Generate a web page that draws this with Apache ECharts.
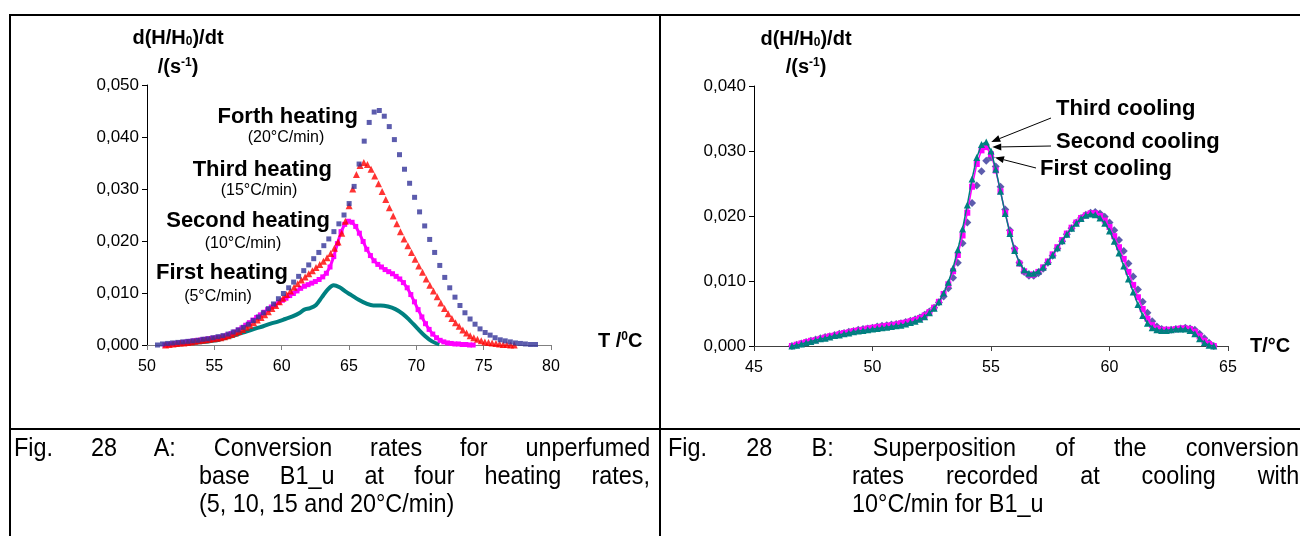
<!DOCTYPE html>
<html><head><meta charset="utf-8">
<script src="https://cdn.jsdelivr.net/npm/echarts@6/dist/echarts.min.js"></script>
<style>
html,body{margin:0;padding:0;background:#fff;}
#wrap{position:relative;width:1300px;height:536px;overflow:hidden;background:#fff;}
#chart{position:absolute;left:0;top:0;width:1300px;height:536px;}
.cap{position:absolute;font-family:'Liberation Sans',Arial,sans-serif;font-size:26px;line-height:28px;color:#000;transform:scaleX(0.9);transform-origin:0 0;white-space:normal;}
.just{text-align:justify;text-align-last:justify;}
</style></head>
<body><div id="wrap"><div id="chart"></div>
<div class="cap just" style="left:14px;top:433px;width:707px">Fig. 28 A: Conversion rates for unperfumed</div>
<div class="cap just" style="left:199px;top:461px;width:501px">base B1_u at four heating rates,</div>
<div class="cap" style="left:199px;top:489px;width:500px">(5, 10, 15 and 20°C/min)</div>
<div class="cap just" style="left:668px;top:433px;width:701px">Fig. 28 B: Superposition of the conversion</div>
<div class="cap just" style="left:852px;top:461px;width:497px">rates recorded at cooling with</div>
<div class="cap" style="left:852px;top:489px;width:497px">10°C/min for B1_u</div>
</div>
<script>
// ---------- Fig. 28 A data (heating) ----------
const forthT = [50.78,51.15,51.53,51.90,52.28,52.66,53.03,53.40,53.78,54.15,
54.52,54.90,55.27,55.64,56.02,56.40,56.77,57.15,57.52,57.89,
58.27,58.64,59.01,59.39,59.76,60.13,60.52,60.89,61.26,61.64,
62.01,62.38,62.76,63.13,63.50,63.88,64.25,64.63,65.01,65.38,
65.75,66.13,66.50,66.87,67.25,67.62,67.99,68.37,68.75,69.12,
69.50,69.87,70.24,70.62,70.99,71.36,71.74,72.11,72.48,72.87,
73.24,73.61,73.99,74.36,74.73,75.11,75.48,75.85,76.23,76.60,
76.98,77.36,77.73,78.10,78.48,78.85];
const forthV = [0.0000,0.0002,0.0003,0.0004,0.0005,0.0006,0.0007,0.0008,0.0009,0.0011,
0.0012,0.0014,0.0016,0.0018,0.0021,0.0025,0.0029,0.0034,0.0040,0.0047,
0.0054,0.0062,0.0070,0.0079,0.0089,0.0099,0.0110,0.0121,0.0132,0.0143,
0.0154,0.0166,0.0178,0.0191,0.0204,0.0218,0.0233,0.0250,0.0272,0.0305,
0.0348,0.0392,0.0428,0.0448,0.0451,0.0440,0.0420,0.0395,0.0366,0.0338,
0.0311,0.0284,0.0256,0.0229,0.0203,0.0178,0.0153,0.0130,0.0110,0.0092,
0.0076,0.0062,0.0050,0.0040,0.0031,0.0024,0.0019,0.0014,0.0010,0.0008,
0.0006,0.0004,0.0003,0.0002,0.0001,0.0001];

const thirdT = [51.38,51.65,51.93,52.20,52.47,52.74,53.02,53.29,53.56,53.83,
54.11,54.38,54.65,54.92,55.20,55.47,55.74,56.01,56.29,56.56,
56.83,57.10,57.38,57.65,57.92,58.19,58.47,58.74,59.01,59.28,
59.56,59.83,60.10,60.37,60.65,60.92,61.19,61.46,61.74,62.01,
62.28,62.55,62.83,63.10,63.37,63.64,63.92,64.19,64.46,64.73,
65.01,65.28,65.55,65.82,66.10,66.37,66.64,66.91,67.19,67.46,
67.73,68.00,68.28,68.55,68.82,69.09,69.37,69.64,69.91,70.18,
70.46,70.73,71.00,71.27,71.55,71.82,72.09,72.36,72.64,72.91,
73.18,73.45,73.73,74.00,74.27,74.54,74.82,75.09,75.36,75.63,
75.91,76.18,76.45,76.72,77.00,77.27];
const thirdV = [0.0000,0.0001,0.0002,0.0003,0.0004,0.0004,0.0005,0.0006,0.0007,0.0008,
0.0009,0.0010,0.0011,0.0012,0.0013,0.0014,0.0016,0.0018,0.0020,0.0023,
0.0026,0.0030,0.0034,0.0038,0.0043,0.0048,0.0053,0.0058,0.0064,0.0070,
0.0076,0.0083,0.0090,0.0097,0.0104,0.0111,0.0118,0.0125,0.0131,0.0137,
0.0143,0.0149,0.0155,0.0161,0.0168,0.0176,0.0186,0.0198,0.0215,0.0238,
0.0268,0.0300,0.0328,0.0345,0.0351,0.0347,0.0338,0.0325,0.0310,0.0295,
0.0280,0.0264,0.0248,0.0233,0.0218,0.0204,0.0191,0.0178,0.0165,0.0152,
0.0140,0.0127,0.0115,0.0104,0.0093,0.0081,0.0070,0.0060,0.0051,0.0043,
0.0036,0.0029,0.0023,0.0018,0.0014,0.0011,0.0008,0.0006,0.0005,0.0004,
0.0003,0.0002,0.0001,0.0001,0.0000,0.0000];

const secondT = [51.33,51.60,51.87,52.15,52.42,52.69,52.96,53.24,53.51,53.78,
54.06,54.33,54.60,54.87,55.15,55.42,55.69,55.96,56.24,56.51,
56.78,57.05,57.33,57.60,57.87,58.14,58.42,58.69,58.96,59.23,
59.51,59.78,60.05,60.32,60.60,60.87,61.14,61.41,61.69,61.96,
62.23,62.50,62.78,63.05,63.32,63.59,63.87,64.14,64.41,64.68,
64.96,65.23,65.50,65.77,66.05,66.32,66.59,66.86,67.14,67.41,
67.68,67.95,68.23,68.50,68.77,69.04,69.32,69.59,69.86,70.13,
70.41,70.68,70.95,71.22,71.50,71.77,72.04,72.31,72.59,72.86,
73.13,73.40,73.68,73.95,74.22];
const secondV = [0.0000,0.0001,0.0002,0.0003,0.0004,0.0005,0.0006,0.0007,0.0008,0.0009,
0.0010,0.0011,0.0012,0.0013,0.0014,0.0015,0.0017,0.0019,0.0022,0.0025,
0.0029,0.0033,0.0038,0.0043,0.0048,0.0053,0.0058,0.0063,0.0068,0.0073,
0.0077,0.0082,0.0086,0.0090,0.0095,0.0099,0.0104,0.0109,0.0113,0.0116,
0.0119,0.0122,0.0126,0.0131,0.0138,0.0150,0.0170,0.0195,0.0218,0.0232,
0.0238,0.0236,0.0228,0.0215,0.0199,0.0184,0.0172,0.0162,0.0155,0.0150,
0.0145,0.0141,0.0137,0.0132,0.0127,0.0120,0.0110,0.0097,0.0083,0.0068,
0.0054,0.0041,0.0030,0.0021,0.0014,0.0009,0.0006,0.0004,0.0003,0.0002,
0.0002,0.0001,0.0001,0.0000,0.0000];

const firstT = [52.09,52.64,53.18,53.73,54.27,54.82,55.36,55.91,56.45,57.00,57.54,58.09,58.63,59.18,59.72,60.27,60.81,61.36,61.68,62.12,
62.55,62.99,63.43,63.86,64.30,64.73,65.17,65.72,66.26,66.81,67.35,67.90,68.44,68.99,69.53,70.08,70.62,71.17,71.71];
const firstV = [0.0000,0.0002,0.0003,0.0005,0.0006,0.0008,0.0010,0.0014,0.0018,0.0023,0.0027,0.0032,0.0036,0.0041,0.0045,0.0050,0.0055,0.0062,0.0068,0.0071,
0.0077,0.0092,0.0107,0.0115,0.0111,0.0103,0.0096,0.0087,0.0080,0.0076,0.0076,0.0074,0.0069,0.0060,0.0047,0.0032,0.0018,0.0007,0.0001];

// ---------- Fig. 28 B data (cooling, 10°C/min) ----------
const coolT = [46.6,46.8,47.0,47.2,47.4,47.6,47.8,48.0,48.2,48.4,
48.6,48.8,49.0,49.2,49.4,49.6,49.8,50.0,50.2,50.4,
50.6,50.8,51.0,51.2,51.4,51.6,51.8,52.0,52.2,52.4,
52.6,52.8,53.0,53.2,53.4,53.6,53.8,54.0,54.2,54.4,
54.6,54.8,55.0,55.2,55.4,55.6,55.8,56.0,56.2,56.4,
56.6,56.8,57.0,57.2,57.4,57.6,57.8,58.0,58.2,58.4,
58.6,58.8,59.0,59.2,59.4,59.6,59.8,60.0,60.2,60.4,
60.6,60.8,61.0,61.2,61.4,61.6,61.8,62.0,62.2,62.4,
62.6,62.8,63.0,63.2,63.4,63.6,63.8,64.0,64.2,64.4];
const firstCoolV = [0.0000,0.0002,0.0004,0.0006,0.0008,0.0010,0.0012,0.0014,0.0015,0.0017,
0.0019,0.0020,0.0022,0.0023,0.0025,0.0026,0.0027,0.0028,0.0030,0.0031,
0.0032,0.0033,0.0034,0.0035,0.0037,0.0039,0.0041,0.0044,0.0048,0.0053,
0.0059,0.0067,0.0076,0.0089,0.0105,0.0128,0.0158,0.0190,0.0220,0.0247,
0.0269,0.0285,0.0290,0.0276,0.0245,0.0210,0.0178,0.0150,0.0128,0.0114,
0.0108,0.0108,0.0112,0.0119,0.0128,0.0139,0.0150,0.0161,0.0172,0.0181,
0.0190,0.0197,0.0202,0.0205,0.0206,0.0204,0.0199,0.0190,0.0178,0.0163,
0.0146,0.0127,0.0107,0.0087,0.0068,0.0051,0.0038,0.0030,0.0026,0.0025,
0.0025,0.0026,0.0027,0.0028,0.0027,0.0025,0.0019,0.0012,0.0005,0.0000];
const secondCoolV = [0.0000,0.0002,0.0004,0.0006,0.0008,0.0009,0.0011,0.0013,0.0015,0.0016,
0.0018,0.0020,0.0021,0.0023,0.0024,0.0025,0.0027,0.0028,0.0029,0.0030,
0.0031,0.0032,0.0033,0.0035,0.0036,0.0038,0.0040,0.0043,0.0047,0.0052,
0.0059,0.0068,0.0080,0.0095,0.0115,0.0140,0.0170,0.0205,0.0245,0.0280,
0.0301,0.0306,0.0295,0.0270,0.0238,0.0205,0.0175,0.0148,0.0127,0.0115,
0.0110,0.0110,0.0114,0.0121,0.0130,0.0141,0.0152,0.0163,0.0173,0.0182,
0.0190,0.0197,0.0201,0.0204,0.0204,0.0200,0.0193,0.0183,0.0169,0.0152,
0.0134,0.0114,0.0094,0.0075,0.0057,0.0042,0.0032,0.0027,0.0025,0.0025,
0.0025,0.0026,0.0027,0.0027,0.0026,0.0022,0.0015,0.0008,0.0003,0.0000];
const thirdCoolV = [0.0000,0.0001,0.0003,0.0005,0.0007,0.0009,0.0011,0.0012,0.0014,0.0016,
0.0017,0.0019,0.0020,0.0022,0.0023,0.0024,0.0025,0.0026,0.0027,0.0028,
0.0029,0.0030,0.0031,0.0032,0.0034,0.0036,0.0038,0.0041,0.0045,0.0051,
0.0058,0.0068,0.0081,0.0098,0.0120,0.0148,0.0180,0.0217,0.0257,0.0290,
0.0310,0.0314,0.0300,0.0272,0.0238,0.0204,0.0173,0.0147,0.0128,0.0117,
0.0112,0.0112,0.0115,0.0121,0.0130,0.0140,0.0151,0.0162,0.0172,0.0181,
0.0189,0.0196,0.0201,0.0203,0.0202,0.0197,0.0189,0.0177,0.0161,0.0143,
0.0123,0.0103,0.0083,0.0064,0.0047,0.0035,0.0028,0.0025,0.0024,0.0024,
0.0025,0.0026,0.0026,0.0026,0.0024,0.0019,0.0011,0.0005,0.0001,0.0000];

// ---------- axis ticks ----------
const leftXTicks = {min: 50, max: 80, step: 5};
const leftYTicks = {min: 0, max: 0.05, step: 0.01};
const rightXTicks = {min: 45, max: 65, step: 5};
const rightYTicks = {min: 0, max: 0.04, step: 0.01};

const heatLabels = [
  ['Forth heating', '(20°C/min)'],
  ['Third heating', '(15°C/min)'],
  ['Second heating', '(10°C/min)'],
  ['First heating', '(5°C/min)']
];
const coolLabels = ['Third cooling', 'Second cooling', 'First cooling'];

// ---------- build ----------
const pairs = (xs, ys) => xs.map((x, i) => [x, ys[i]]);
const FONT = "'Liberation Sans', Arial, sans-serif";
const NARROW = "'Liberation Sans Narrow', 'Arial Narrow', 'Liberation Sans', sans-serif";
const fmtY = v => v.toFixed(3).replace('.', ',');

function xAx(gi, t, lineColor) {
  return {type: 'value', gridIndex: gi, min: t.min, max: t.max, interval: t.step,
    axisLine: {show: true, onZero: false, lineStyle: {color: lineColor, width: 1}},
    axisTick: {show: true, length: 5, lineStyle: {color: lineColor}},
    axisLabel: {margin: 14, color: '#000', fontFamily: NARROW, fontSize: 16},
    splitLine: {show: false}};
}
function yAx(gi, t) {
  return {type: 'value', gridIndex: gi, min: t.min, max: t.max, interval: t.step,
    axisLine: {show: true, lineStyle: {color: '#000', width: 1}},
    axisTick: {show: true, length: 5, lineStyle: {color: '#000'}},
    axisLabel: {margin: 8, color: '#000', fontFamily: FONT, fontSize: 17, formatter: fmtY},
    splitLine: {show: false}};
}

const chart = echarts.init(document.getElementById('chart'), null, {renderer: 'canvas'});

const series = [
  {name: 'First heating', type: 'line', xAxisIndex: 0, yAxisIndex: 0, data: pairs(firstT, firstV),
   showSymbol: false, smooth: 0.35, lineStyle: {color: '#008080', width: 4}, z: 2},
  {name: 'Second heating', type: 'line', xAxisIndex: 0, yAxisIndex: 0, data: pairs(secondT, secondV),
   symbol: 'rect', symbolSize: 5, showAllSymbol: true, lineStyle: {color: '#ff00ff', width: 3},
   itemStyle: {color: '#ff00ff'}, z: 3},
  {name: 'Third heating', type: 'scatter', xAxisIndex: 0, yAxisIndex: 0, data: pairs(thirdT, thirdV),
   symbol: 'triangle', symbolSize: 7, itemStyle: {color: '#ff0000'}, z: 4},
  {name: 'Forth heating', type: 'scatter', xAxisIndex: 0, yAxisIndex: 0, data: pairs(forthT, forthV),
   symbol: 'rect', symbolSize: 5, itemStyle: {color: '#333399'}, z: 5},

  {name: 'First cooling', type: 'scatter', xAxisIndex: 1, yAxisIndex: 1, data: pairs(coolT, firstCoolV),
   symbol: 'diamond', symbolSize: 8, itemStyle: {color: '#333399'}, z: 2},
  {name: 'Second cooling', type: 'line', xAxisIndex: 1, yAxisIndex: 1, data: pairs(coolT, secondCoolV),
   symbol: 'rect', symbolSize: 6, showAllSymbol: true, lineStyle: {color: '#ff00ff', width: 1.5},
   itemStyle: {color: '#ff00ff'}, z: 3},
  {name: 'Third cooling', type: 'line', xAxisIndex: 1, yAxisIndex: 1, data: pairs(coolT, thirdCoolV),
   symbol: 'triangle', symbolSize: 7, showAllSymbol: true, lineStyle: {color: '#008080', width: 1.5},
   itemStyle: {color: '#008080'}, z: 4}
];

function rect(x, y, w, h) {
  return {type: 'rect', silent: true, shape: {x, y, width: w, height: h}, style: {fill: '#000'}, z: 50};
}
function txt(x, y, text, opt) {
  opt = opt || {};
  return {type: 'text', x, y, silent: true, z: 60, style: Object.assign({
    text, fill: '#000', fontFamily: FONT, fontSize: opt.size || 22,
    fontWeight: opt.bold === false ? 'normal' : 'bold',
    align: opt.align || 'left', verticalAlign: 'middle'}, opt.extra || {})};
}
const subRich = {
  sub: {fontSize: 12, fontWeight: 'bold', fontFamily: FONT, verticalAlign: 'bottom', lineHeight: 12, fill: '#000'},
  sup: {fontSize: 12, fontWeight: 'bold', fontFamily: FONT, verticalAlign: 'top', lineHeight: 12, fill: '#000'}
};

const baseGraphic = [
  rect(9, 14, 1291, 2), rect(9, 14, 2, 522), rect(659, 14, 2, 522), rect(9, 428, 1291, 2),
  // axis titles
  txt(178, 38, 'd(H/H{sub|0})/dt', {size: 20, extra: {rich: subRich, align: 'center'}}),
  txt(178, 67, '/(s{sup|-1})', {size: 20, extra: {rich: subRich, align: 'center'}}),
  txt(806, 39, 'd(H/H{sub|0})/dt', {size: 20, extra: {rich: subRich, align: 'center'}}),
  txt(806, 67, '/(s{sup|-1})', {size: 20, extra: {rich: subRich, align: 'center'}}),
  txt(598, 341, 'T /{sup|0}C', {size: 20, extra: {rich: subRich}}),
  txt(1250, 346, 'T/°C', {size: 20}),
  // heating labels
  txt(358, 117, heatLabels[0][0], {align: 'right'}),
  txt(286, 138, heatLabels[0][1], {size: 16, bold: false, align: 'center'}),
  txt(332, 170, heatLabels[1][0], {align: 'right'}),
  txt(259, 191, heatLabels[1][1], {size: 16, bold: false, align: 'center'}),
  txt(330, 221, heatLabels[2][0], {align: 'right'}),
  txt(243, 244, heatLabels[2][1], {size: 16, bold: false, align: 'center'}),
  txt(288, 273, heatLabels[3][0], {align: 'right'}),
  txt(218, 297, heatLabels[3][1], {size: 16, bold: false, align: 'center'}),
  // cooling labels
  txt(1056, 109, coolLabels[0]),
  txt(1056, 142, coolLabels[1]),
  txt(1040, 169, coolLabels[2])
];

const option = {
  animation: false,
  backgroundColor: 'transparent',
  grid: [
    {left: 147, top: 85, width: 404, height: 260},
    {left: 754, top: 86, width: 474, height: 260}
  ],
  xAxis: [xAx(0, leftXTicks, '#808080'), xAx(1, rightXTicks, '#404040')],
  yAxis: [yAx(0, leftYTicks), yAx(1, rightYTicks)],
  series,
  graphic: baseGraphic
};
chart.setOption(option);

// arrows from cooling labels to the peak of each cooling curve
function peak(xs, ys) {
  let k = 0; ys.forEach((v, i) => { if (v > ys[k]) k = i; });
  return [xs[k], ys[k]];
}
function arrow(from, tip) {
  const dx = tip[0] - from[0], dy = tip[1] - from[1];
  const L = Math.hypot(dx, dy), ux = dx / L, uy = dy / L;
  const bx = tip[0] - ux * 9, by = tip[1] - uy * 9;
  const px = -uy * 3.5, py = ux * 3.5;
  return [
    {type: 'line', silent: true, z: 55, shape: {x1: from[0], y1: from[1], x2: bx, y2: by},
     style: {stroke: '#000', lineWidth: 1}},
    {type: 'polygon', silent: true, z: 55,
     shape: {points: [[tip[0], tip[1]], [bx + px, by + py], [bx - px, by - py]]}, style: {fill: '#000'}}
  ];
}
const pThird = chart.convertToPixel({gridIndex: 1}, peak(coolT, thirdCoolV));
const pSecond = chart.convertToPixel({gridIndex: 1}, peak(coolT, secondCoolV));
const pFirst = chart.convertToPixel({gridIndex: 1}, peak(coolT, firstCoolV));
const arrows = [].concat(
  arrow([1051, 118], [pThird[0] + 5, pThird[1]]),
  arrow([1051, 146], [pSecond[0] + 6, pSecond[1]]),
  arrow([1036, 168], [pFirst[0] + 4, pFirst[1]])
);
chart.setOption({graphic: baseGraphic.concat(arrows)}, {replaceMerge: ['graphic']});
</script>
</body></html>
